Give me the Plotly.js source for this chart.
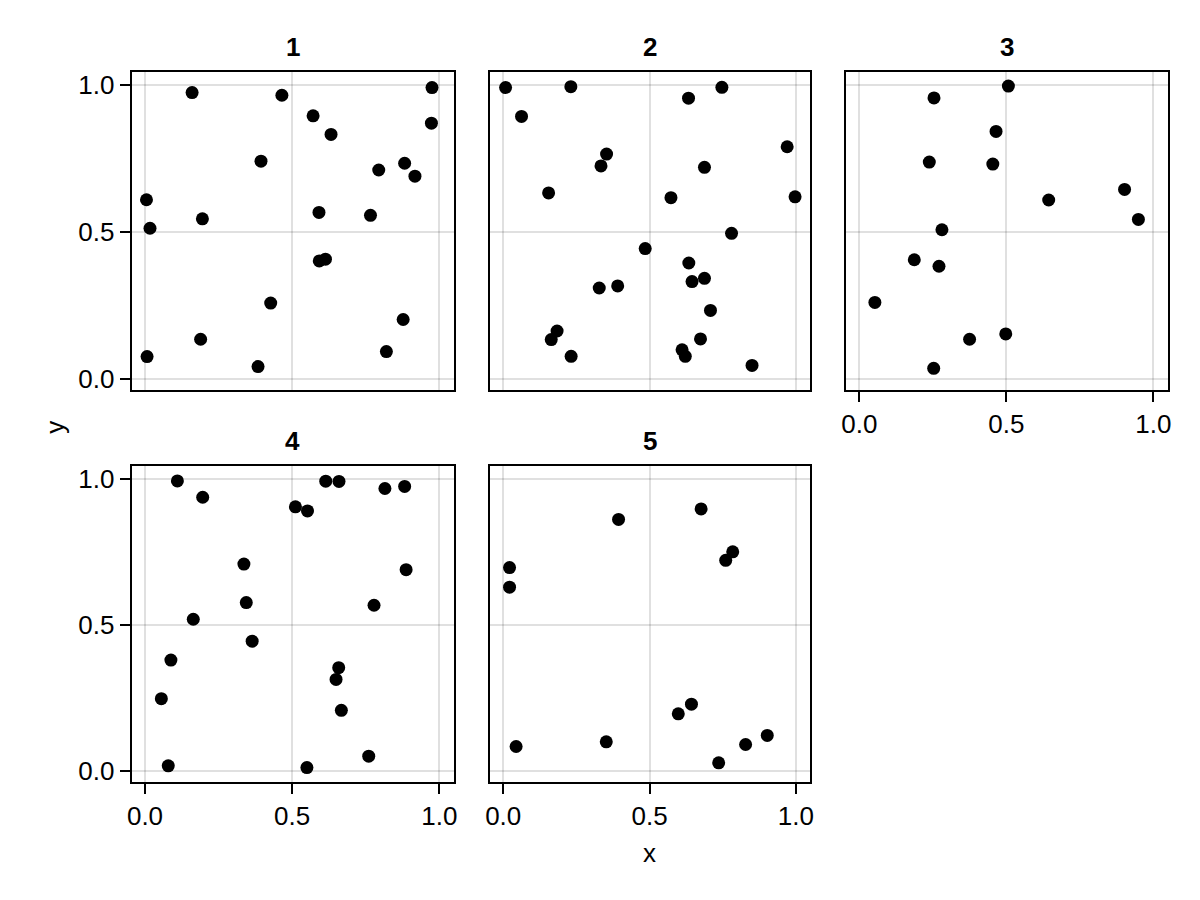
<!DOCTYPE html>
<html>
<head>
<meta charset="utf-8">
<script src="https://cdn.plot.ly/plotly-3.0.1.min.js"></script>
<style>html,body{margin:0;padding:0;background:#fff;} #chart{width:1200px;height:900px;}</style>
</head>
<body>
<div id="chart"></div>
<script>
// Panel titles
const panelTitles = ["1", "2", "3", "4", "5"];
const tickVals = [0, 0.5, 1];
const tickText = ["0.0", "0.5", "1.0"];

// Panel 1
const p1x = [0.160, 0.465, 0.975, 0.571, 0.973, 0.632, 0.394, 0.794, 0.882, 0.917, 0.005, 0.017, 0.195, 0.591, 0.766, 0.592, 0.613, 0.427, 0.877, 0.189, 0.007, 0.820, 0.384];
const p1y = [0.973, 0.964, 0.990, 0.894, 0.869, 0.831, 0.740, 0.710, 0.733, 0.689, 0.609, 0.512, 0.544, 0.566, 0.556, 0.401, 0.407, 0.258, 0.202, 0.135, 0.076, 0.093, 0.042];
// Panel 2
const p2x = [0.008, 0.231, 0.747, 0.633, 0.0625, 0.353, 0.334, 0.970, 0.6875, 0.155, 0.573, 0.997, 0.780, 0.485, 0.634, 0.6875, 0.645, 0.328, 0.391, 0.708, 0.184, 0.164, 0.232, 0.674, 0.611, 0.622, 0.850];
const p2y = [0.990, 0.993, 0.991, 0.954, 0.892, 0.764, 0.724, 0.789, 0.719, 0.632, 0.616, 0.619, 0.495, 0.443, 0.394, 0.342, 0.331, 0.309, 0.316, 0.233, 0.163, 0.134, 0.077, 0.136, 0.099, 0.077, 0.046];
// Panel 3
const p3x = [0.507, 0.254, 0.465, 0.238, 0.454, 0.902, 0.644, 0.949, 0.281, 0.187, 0.271, 0.053, 0.498, 0.375, 0.253];
const p3y = [0.995, 0.955, 0.841, 0.737, 0.730, 0.644, 0.608, 0.542, 0.507, 0.405, 0.383, 0.260, 0.153, 0.135, 0.036];
// Panel 4
const p4x = [0.110, 0.196, 0.614, 0.659, 0.815, 0.882, 0.511, 0.552, 0.336, 0.887, 0.344, 0.778, 0.164, 0.364, 0.088, 0.658, 0.649, 0.0555, 0.667, 0.760, 0.079, 0.550];
const p4y = [0.993, 0.937, 0.992, 0.991, 0.967, 0.974, 0.904, 0.890, 0.708, 0.689, 0.576, 0.567, 0.519, 0.444, 0.379, 0.353, 0.313, 0.247, 0.207, 0.050, 0.017, 0.011];
// Panel 5
const p5x = [0.676, 0.394, 0.784, 0.760, 0.0216, 0.0216, 0.643, 0.598, 0.902, 0.828, 0.352, 0.044, 0.736];
const p5y = [0.897, 0.861, 0.750, 0.721, 0.696, 0.629, 0.228, 0.195, 0.121, 0.090, 0.099, 0.083, 0.027];

const W = 1200, H = 900;
const cols = [[131.7, 453.5], [490, 810], [846, 1167.5]];
const rows = [[71.7, 390], [466, 781.7]];
const dx = c => [cols[c][0] / W, cols[c][1] / W];
const dy = r => [1 - rows[r][1] / H, 1 - rows[r][0] / H];

const xs = [p1x, p2x, p3x, p4x, p5x];
const ys = [p1y, p2y, p3y, p4y, p5y];
const pos = [[0, 0], [1, 0], [2, 0], [0, 1], [1, 1]]; // [col,row]
const showX = [false, false, true, true, true];
const showY = [true, false, false, true, false];

const FONT = "Liberation Sans, Arial, sans-serif";
const FS = 26;

const traces = [];
const layout = {
  width: W, height: H,
  margin: {l: 0, r: 0, t: 0, b: 0},
  paper_bgcolor: "#fff", plot_bgcolor: "#fff",
  showlegend: false,
  font: {family: FONT, size: FS, color: "#000"},
  annotations: []
};

for (let i = 0; i < 5; i++) {
  const sfx = i === 0 ? "" : String(i + 1);
  traces.push({
    type: "scatter", mode: "markers",
    x: xs[i], y: ys[i],
    xaxis: "x" + sfx, yaxis: "y" + sfx,
    marker: {color: "#000", size: 13, line: {width: 0}},
    hoverinfo: "skip"
  });
  const [c, r] = pos[i];
  const common = {
    showline: true, linecolor: "#000", linewidth: 2, mirror: true,
    showgrid: true, gridcolor: "rgba(0,0,0,0.12)", gridwidth: 2,
    zeroline: false,
    tickmode: "array", tickvals: tickVals, ticktext: tickText,
    tickfont: {family: FONT, size: FS, color: "#000"},
    ticklen: 10, tickwidth: 2, tickcolor: "#000"
  };
  layout["xaxis" + sfx] = Object.assign({}, common, {
    domain: dx(c), range: [-0.0452, 1.048], anchor: "y" + sfx,
    ticks: showX[i] ? "outside" : "", showticklabels: showX[i]
  });
  layout["yaxis" + sfx] = Object.assign({}, common, {
    domain: dy(r), range: [-0.0375, 1.044], anchor: "x" + sfx,
    ticks: showY[i] ? "outside" : "", showticklabels: showY[i]
  });
  layout.annotations.push({
    text: "<b>" + panelTitles[i] + "</b>",
    xref: "paper", yref: "paper",
    x: (dx(c)[0] + dx(c)[1]) / 2, y: dy(r)[1],
    xanchor: "center", yanchor: "bottom", yshift: 8,
    showarrow: false, font: {family: FONT, size: FS, color: "#000"}
  });
}

layout.annotations.push({
  text: "x", xref: "paper", yref: "paper",
  x: (cols[0][0] + cols[2][1]) / 2 / W, y: 1 - 853 / H,
  xanchor: "center", yanchor: "middle", showarrow: false,
  font: {family: FONT, size: FS, color: "#000"}
});
layout.annotations.push({
  text: "y", xref: "paper", yref: "paper",
  x: 55 / W, y: 1 - ((rows[0][0] + rows[1][1]) / 2) / H,
  xanchor: "center", yanchor: "middle", showarrow: false, textangle: -90,
  font: {family: FONT, size: FS, color: "#000"}
});

Plotly.newPlot("chart", traces, layout, {staticPlot: true, displayModeBar: false});
</script>
</body>
</html>
